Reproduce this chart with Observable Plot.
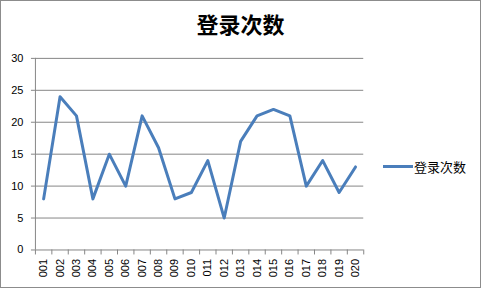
<!DOCTYPE html>
<html>
<head>
<meta charset="utf-8">
<script src="https://cdn.jsdelivr.net/npm/d3@7"></script>
<script src="https://cdn.jsdelivr.net/npm/@observablehq/plot@0.6"></script>
<style>
  html, body { margin: 0; padding: 0; background: #fff; }
  #frame { position: relative; width: 481px; height: 288px; box-sizing: border-box; border: 1px solid #8c8c8c; overflow: hidden; }
  #title { position: absolute; left: 0; width: 479px; top: 7px; text-align: center; font-family: "Noto Sans CJK SC", sans-serif; font-weight: bold; font-size: 22px; line-height: 30px; color: #000; }
  #chart { position: absolute; left: -1px; top: -1px; }
  #legend { position: absolute; left: 382px; top: 156px; display: flex; align-items: center; font-family: "Noto Sans CJK SC", sans-serif; font-size: 13px; color: #000; }
  #legend .sw { width: 30px; height: 3px; background: #4a7ebb; margin-right: 1px; }
</style>
</head>
<body>
<div id="frame">
  <div id="title">登录次数</div>
  <div id="chart"></div>
  <div id="legend"><span class="sw"></span><span id="legtext"></span></div>
</div>
<script>
const seriesName = "登录次数";
const categories = ["001","002","003","004","005","006","007","008","009","010","011","012","013","014","015","016","017","018","019","020"];
const values = [8, 24, 21, 8, 15, 10, 21, 16, 8, 9, 14, 5, 17, 21, 22, 21, 10, 14, 9, 13];
const yTicks = [0, 5, 10, 15, 20, 25, 30];

const data = categories.map((c, i) => ({i, c, v: values[i]}));
const gridColor = "#868686";
const font = "'Liberation Sans', Arial, sans-serif";

document.getElementById("legtext").textContent = seriesName;

const chart = Plot.plot({
  width: 481,
  height: 289,
  marginLeft: 35,
  marginRight: 117,
  marginTop: 58,
  marginBottom: 39,
  style: {background: "transparent", fontFamily: font, fontSize: "11px", color: "#000", overflow: "visible"},
  x: {type: "linear", domain: [0, categories.length]},
  y: {domain: [0, 30]},
  marks: [
    Plot.ruleY(yTicks, {stroke: gridColor, strokeOpacity: 1, strokeWidth: 1}),
    Plot.ruleX([0], {y1: 0, y2: 30, stroke: gridColor, strokeWidth: 1}),
    Plot.axisY({ticks: yTicks, tickSize: 4, tickPadding: 8, stroke: gridColor, label: null, fontSize: 11, fill: "#000"}),
    Plot.axisX({ticks: d3.range(categories.length + 1), tickSize: 5, tickFormat: () => "", stroke: gridColor, label: null}),
    Plot.axisX({ticks: d3.range(categories.length).map(i => i + 0.5), tickFormat: (d) => categories[Math.floor(d)], tickSize: 0, tickPadding: 9, tickRotate: -90, label: null, fontSize: 11, fill: "#000"}),
    Plot.line(data, {x: d => d.i + 0.5, y: "v", stroke: "#4a7ebb", strokeWidth: 3, strokeLinejoin: "round", strokeLinecap: "round"})
  ]
});
document.getElementById("chart").appendChild(chart);
</script>
</body>
</html>
